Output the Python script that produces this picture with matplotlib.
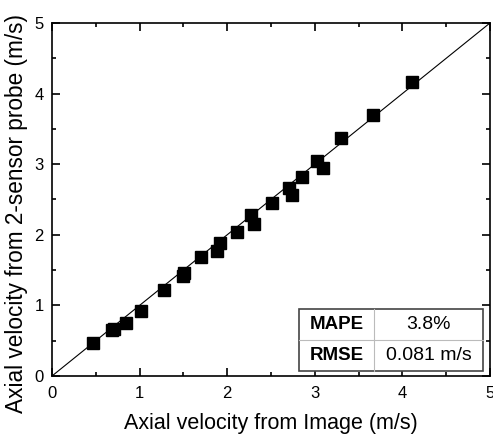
import numpy as np
import matplotlib.pyplot as plt
from matplotlib.patches import Rectangle
from matplotlib.ticker import MultipleLocator

plt.rcParams['font.family'] = ['Liberation Sans', 'DejaVu Sans']

# velocities (m/s)
v_image = [0.47, 0.68, 0.71, 0.845, 1.02, 1.28, 1.49, 1.51, 1.70, 1.88, 1.92,
           2.11, 2.27, 2.31, 2.515, 2.70, 2.74, 2.85, 3.03, 3.09, 3.30, 3.66, 4.11]
v_probe = [0.47, 0.65, 0.67, 0.755, 0.92, 1.22, 1.41, 1.46, 1.68, 1.775, 1.89,
           2.035, 2.28, 2.15, 2.455, 2.66, 2.56, 2.82, 3.05, 2.94, 3.37, 3.70, 4.17]

stat_names = ["MAPE", "RMSE"]
stat_values = ["3.8%", "0.081 m/s"]

fig = plt.figure(figsize=(4.93, 4.38), dpi=100)
ax = fig.add_axes([0.1055, 0.1416, 0.8885, 0.806])

ax.plot([0, 5], [0, 5], color="black", lw=0.8, zorder=2)
ax.plot(v_image, v_probe, "s", color="black", ms=8, zorder=3)

ax.set_xlim(0, 5)
ax.set_ylim(0, 5)
ax.xaxis.set_major_locator(MultipleLocator(1))
ax.yaxis.set_major_locator(MultipleLocator(1))
ax.xaxis.set_minor_locator(MultipleLocator(0.5))
ax.yaxis.set_minor_locator(MultipleLocator(0.5))
ax.tick_params(which="both", direction="in", top=True, right=True, labelsize=12, width=1.2)
ax.tick_params(which="major", length=6)
ax.tick_params(axis="x", which="major", pad=7)
ax.tick_params(axis="y", which="major", pad=6)
ax.tick_params(which="minor", length=3)
for s in ax.spines.values():
    s.set_linewidth(1.2)

ax.set_xlabel("Axial velocity from Image (m/s)", fontsize=15.5, labelpad=9)
ax.set_ylabel("Axial velocity from 2-sensor probe (m/s)", fontsize=16.3)
ax.yaxis.set_label_coords(-0.054, 0.46)

# stats table in lower right
x0, x1, xm = 0.564, 0.984, 0.735
y0, y1 = 0.014, 0.19
ym = (y0 + y1) / 2
ax.add_patch(Rectangle((x0, y0), x1 - x0, y1 - y0, transform=ax.transAxes,
                       facecolor="white", edgecolor="#444444", lw=1.2, zorder=5))
ax.plot([xm, xm], [y0, y1], transform=ax.transAxes, color="#bbbbbb", lw=0.8, zorder=6)
ax.plot([x0, x1], [ym, ym], transform=ax.transAxes, color="#bbbbbb", lw=0.8, zorder=6)
rows_y = [y1 - (y1 - y0) / 4, y0 + (y1 - y0) / 4]
for name, val, yy in zip(stat_names, stat_values, rows_y):
    ax.text((x0 + xm) / 2, yy, name, transform=ax.transAxes, ha="center", va="center",
            fontsize=13.5, fontweight="bold", zorder=7)
    ax.text((xm + x1) / 2, yy, val, transform=ax.transAxes, ha="center", va="center",
            fontsize=14, zorder=7)

fig.savefig("out.png", dpi=100)
